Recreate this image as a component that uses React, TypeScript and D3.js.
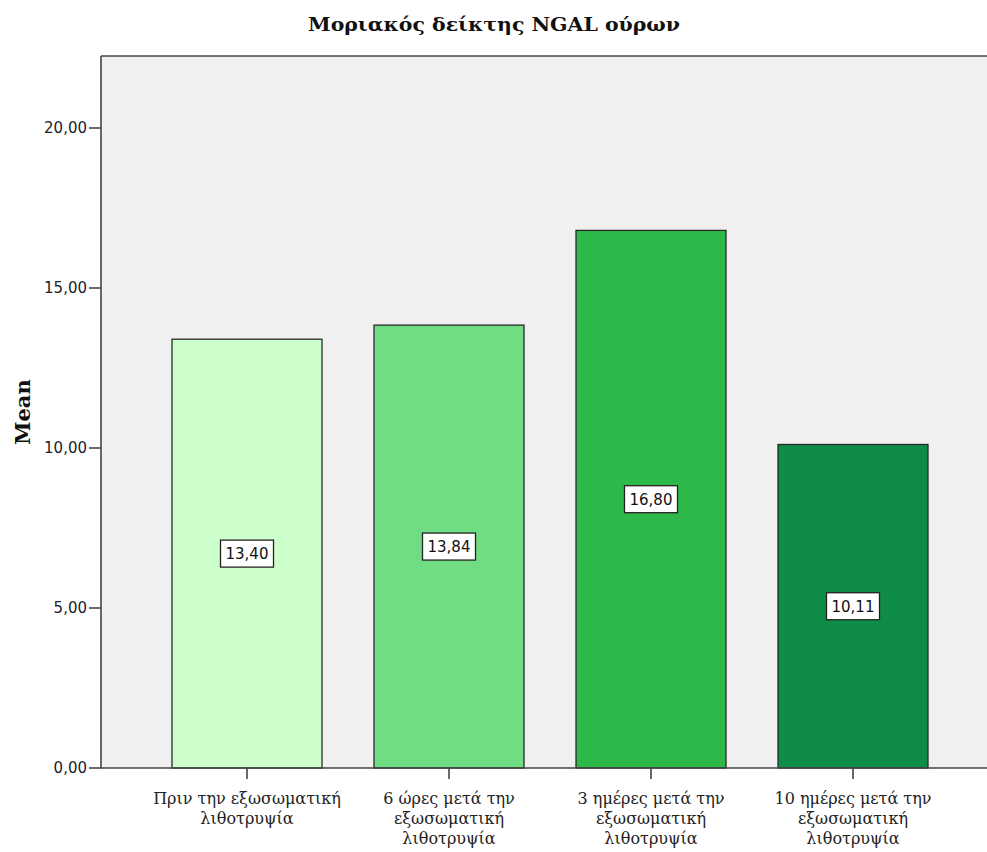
import React from "react";
import * as d3 from "d3";

const title = "Μοριακός δείκτης NGAL ούρων";
const yLabel = "Mean";
const categories = [
  "Πριν την εξωσωματική λιθοτρυψία",
  "6 ώρες μετά την εξωσωματική λιθοτρυψία",
  "3 ημέρες μετά την εξωσωματική λιθοτρυψία",
  "10 ημέρες μετά την εξωσωματική λιθοτρυψία",
];
const categoryLines = [
  ["Πριν την εξωσωματική", "λιθοτρυψία"],
  ["6 ώρες μετά την", "εξωσωματική", "λιθοτρυψία"],
  ["3 ημέρες μετά την", "εξωσωματική", "λιθοτρυψία"],
  ["10 ημέρες μετά την", "εξωσωματική", "λιθοτρυψία"],
];
const values = [13.4, 13.84, 16.8, 10.11];
const yTicks = [0, 5, 10, 15, 20];
const barColors = ["#ccffcc", "#70dc84", "#2eb84a", "#0e8c48"];

const W = 987;
const H = 852;
const plotLeft = 101;
const plotTop = 56;
const plotBottom = 768;
const plotRight = 1000;

const fmt = (v: number) => v.toFixed(2).replace(".", ",");

export default function App() {
  const y = d3.scaleLinear().domain([0, 22.25]).range([plotBottom, plotTop]);
  const x = d3.scalePoint<string>().domain(categories).range([247, 853]);
  const barW = 150;
  const sans = "'DejaVu Sans', sans-serif";
  const serif = "'DejaVu Serif', serif";

  return (
    <div style={{ position: "fixed", left: 0, top: 0 }}>
      <svg width={W} height={H} style={{ display: "block", background: "#fff" }}>
        <text x={494} y={31} textAnchor="middle" fontFamily={serif} fontWeight="bold" fontSize={19} fill="#111"
          textLength={372} lengthAdjust="spacingAndGlyphs">
          {title}
        </text>
        <rect x={plotLeft} y={plotTop} width={plotRight - plotLeft} height={plotBottom - plotTop} fill="#f0f0f0" />
        {categories.map((c, i) => (
          <rect
            key={c}
            x={(x(c) as number) - barW / 2}
            y={y(values[i])}
            width={barW}
            height={plotBottom - y(values[i])}
            fill={barColors[i]}
            stroke="#2a2a2a"
            strokeWidth={1.3}
          />
        ))}
        <line x1={plotLeft} y1={plotTop} x2={plotRight} y2={plotTop} stroke="#444" strokeWidth={1.6} />
        <line x1={plotLeft} y1={plotTop} x2={plotLeft} y2={plotBottom} stroke="#444" strokeWidth={1.6} />
        <line x1={plotLeft} y1={plotBottom} x2={plotRight} y2={plotBottom} stroke="#444" strokeWidth={1.6} />
        {yTicks.map((t) => (
          <g key={t}>
            <line x1={plotLeft - 12} x2={plotLeft} y1={y(t)} y2={y(t)} stroke="#444" strokeWidth={1.6} />
            <text x={plotLeft - 14} y={y(t) + 5} textAnchor="end" fontFamily={sans} fontSize={15} fill="#222">
              {fmt(t)}
            </text>
          </g>
        ))}
        {categories.map((c, i) => (
          <g key={c}>
            <line x1={x(c)} x2={x(c)} y1={plotBottom} y2={plotBottom + 11} stroke="#444" strokeWidth={1.6} />
            {categoryLines[i].map((ln, j) => (
              <text key={j} x={x(c)} y={804 + j * 20} textAnchor="middle" fontFamily={serif} fontSize={16} fill="#222">
                {ln}
              </text>
            ))}
          </g>
        ))}
        {categories.map((c, i) => {
          const cy = y(values[i] / 2);
          const cx = x(c) as number;
          return (
            <g key={c}>
              <rect x={cx - 26.5} y={cy - 13.5} width={53} height={27} fill="#fff" stroke="#222" strokeWidth={1.3} />
              <text x={cx} y={cy + 5.5} textAnchor="middle" fontFamily={sans} fontSize={15} fill="#111">
                {fmt(values[i])}
              </text>
            </g>
          );
        })}
        <text
          transform={`translate(30, ${(plotTop + plotBottom) / 2}) rotate(-90)`}
          textAnchor="middle"
          fontFamily={serif}
          fontWeight="bold"
          fontSize={21}
          fill="#111"
        >
          {yLabel}
        </text>
      </svg>
    </div>
  );
}
